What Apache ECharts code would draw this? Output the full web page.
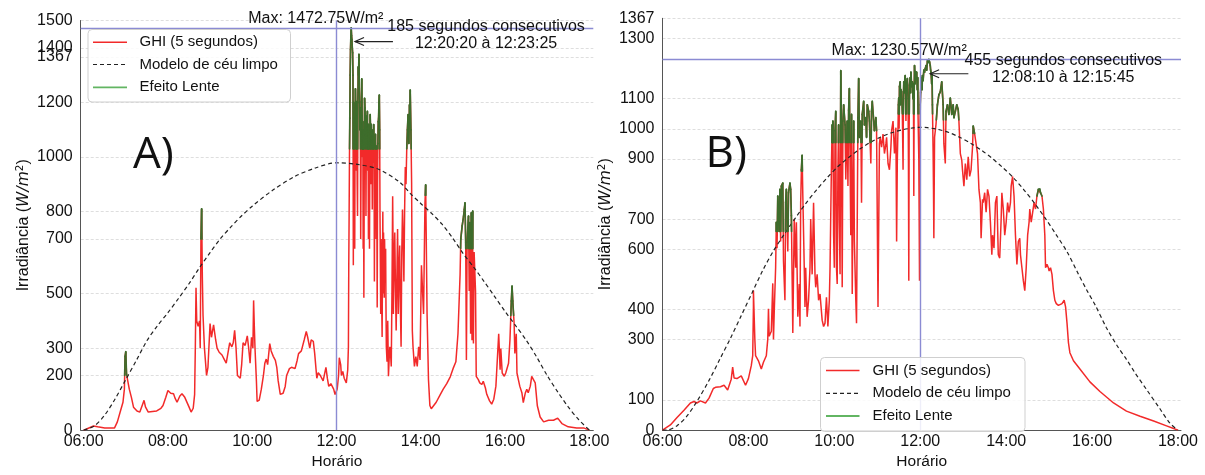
<!DOCTYPE html>
<html><head><meta charset="utf-8">
<script src="https://cdn.jsdelivr.net/npm/echarts@6/dist/echarts.min.js"></script>
<style>html,body{margin:0;padding:0;background:#fff}#c{width:1205px;height:475px}</style>
</head><body><div id="c"></div>
<script>
// ---------------- DATA ----------------
const xTicks = [6, 8, 10, 12, 14, 16, 18];
const yTicksA = [0, 200, 300, 500, 700, 800, 1000, 1200, 1367, 1400, 1500];
const yTicksB = [0, 100, 300, 400, 600, 700, 900, 1000, 1100, 1300, 1367];

const seriesNames = ['GHI (5 segundos)', 'Modelo de céu limpo', 'Efeito Lente'];

// Panel A : GHI (5 s) [time, W/m²]
const ghiA = [
["06:00",0],["06:05",5],["06:14",15],["06:20",12],["06:30",8],["06:44",8],["06:48",30],["06:52",66],["06:56",102],["06:58",150],["06:59",270],["07:00",287],["07:01",205],["07:02",191],["07:05",150],["07:08",120],["07:11",84],["07:16",70],["07:20",66],["07:24",95],["07:26",109],["07:28",85],["07:32",66],["07:38",68],["07:44",70],["07:50",80],["07:53",90],["07:57",120],["08:00",145],["08:04",135],["08:08",133],["08:10",118],["08:13",102],["08:17",125],["08:20",133],["08:24",120],["08:26",115],["08:30",85],["08:33",66],["08:36",80],["08:38",130],["08:39",300],["08:40",521],["08:41",400],["08:43",380],["08:45",400],["08:46",300],["08:47",700],["08:48",810],["08:49",560],["08:50",420],["08:52",300],["08:55",200],["08:57",230],["09:00",390],["09:02",340],["09:05",385],["09:08",330],["09:10",300],["09:13",285],["09:17",275],["09:20",260],["09:23",245],["09:26",290],["09:28",320],["09:31",305],["09:33",320],["09:35",365],["09:37",300],["09:39",200],["09:43",190],["09:45",240],["09:47",320],["09:50",310],["09:53",345],["09:55",300],["09:57",245],["09:59",340],["10:01",300],["10:02",475],["10:03",380],["10:04",300],["10:06",180],["10:07",105],["10:10",110],["10:13",150],["10:16",200],["10:18",245],["10:20",260],["10:22",240],["10:25",317],["10:27",290],["10:30",270],["10:33",255],["10:35",230],["10:37",180],["10:40",131],["10:44",135],["10:47",160],["10:49",200],["10:53",225],["10:56",230],["11:01",225],["11:04",255],["11:06",280],["11:10",290],["11:14",330],["11:17",361],["11:19",340],["11:22",300],["11:24",330],["11:27",325],["11:29",280],["11:32",190],["11:34",210],["11:37",200],["11:39",195],["11:41",180],["11:43",205],["11:45",230],["11:47",190],["11:49",160],["11:52",170],["11:56",150],["11:58",130],["12:01",150],["12:03",200],["12:04",265],["12:06",240],["12:07",200],["12:09",215],["12:11",190],["12:14",173],
["12:16",220],["12:17",305],["12:17:30",600],["12:18",784],["12:18:30",1000],["12:19",1143],["12:19:30",1300],["12:20",1394],["12:20:30",1440],["12:21",1472.75],["12:21:30",1445],["12:22",1430],["12:22:30",1400],["12:23",1382],["12:23:30",1300],["12:24",604],["12:24:30",1200],["12:25",1143],["12:25:30",880],["12:26",664],["12:26:30",1100],["12:27",1250],["12:27:30",1180],["12:28",1203],["12:28:30",950],["12:29",1150],["12:29:30",900],["12:30",784],["12:30:30",1200],["12:31",1330],["12:31:30",1300],["12:32",1376],["12:32:30",1250],["12:33",1203],["12:33:30",1100],["12:34",1180],["12:34:30",700],["12:35",963],["12:35:30",1200],["12:36",1286],["12:36:30",1150],["12:37",1000],["12:37:30",1130],["12:38",664],["12:38:30",1100],["12:39",485],["12:39:30",900],["12:40",1215],["12:40:30",1180],["12:41",1143],["12:41:30",1080],["12:42",784],["12:42:30",1050],["12:43",1150],["12:43:30",1100],["12:44",1167],["12:44:30",950],["12:45",1120],["12:45:30",700],["12:46",1119],["12:46:30",1050],["12:47",664],["12:47:30",1000],["12:48",1155],["12:48:30",1100],["12:49",900],["12:49:30",1120],["12:50",1047],["12:50:30",1090],["12:51",808],["12:51:30",1060],["12:52",1100],["12:52:30",980],["12:53",1119],["12:53:30",1040],["12:54",544],["12:54:30",900],["12:55",1050],["12:55:30",1083],["12:56",1000],["12:56:30",700],["12:57",1040],["12:57:30",800],["12:58",449],["12:58:30",900],["12:59",1050],["12:59:30",1130],["13:00",1143],["13:00:30",1200],["13:01",1227],["13:01:30",1100],["13:02",784],["13:02:30",600],["13:03",425],["13:03:30",700],["13:04",550],["13:05",341],["13:05:30",600],["13:06",800],["13:06:30",500],["13:07",724],["13:07:30",620],["13:08",485],["13:08:30",700],["13:09",600],["13:10",664],["13:10:30",450],["13:11",305],["13:12",250],["13:13",400],["13:14",197],["13:15",260],["13:16",305],["13:17",280],["13:18",233],["13:19",500],["13:20",856],["13:20:30",700],["13:21",425],["13:22",600],["13:23",724],["13:24",520],["13:25",365],["13:26",550],["13:27",736],["13:27:30",600],["13:28",425],["13:29",580],["13:30",676],["13:31",450],["13:32",305],["13:33",650],["13:34",808],["13:35",700],["13:36",544],["13:37",800],["13:38",963],["13:39",900],["13:40",1023],["13:41",1100],["13:42",1155],["13:43",1050],["13:44",1191],["13:44:30",1150],["13:45",1245],["13:46",1100],["13:47",903],["13:48",365],["13:49",305],["13:51",233],["13:53",269],["13:55",233],["13:57",305],["13:59",257],["14:01",604],["14:04",425],["14:06",832],["14:07",898],["14:09",425],["14:11",185],["14:13",90],["14:15",78],["14:22",102],["14:27",126],["14:32",150],["14:37",170],["14:42",195],["14:46",225],["14:50",250],["14:53",353],["14:56",569],["14:57",700],["14:59",748],["15:01",784],["15:02",808],["15:03",832],["15:04",688],["15:05",257],["15:06",688],["15:08",784],["15:09",509],["15:10",760],["15:11",353],["15:12",796],["15:13",329],["15:14",802],["15:14",652],["15:15",317],["15:16",652],["15:18",509],["15:19",197],["15:22",185],["15:24",173],["15:27",167],["15:29",179],["15:32",155],["15:34",131],["15:38",107],["15:41",95],["15:44",113],["15:47",161],["15:49",257],["15:51",353],["15:53",221],["15:54",299],["15:56",209],["15:59",197],["16:01",209],["16:05",245],["16:07",329],["16:09",473],["16:10",527],["16:11",473],["16:13",389],["16:14",281],["16:16",353],["16:17",209],["16:19",185],["16:21",161],["16:24",137],["16:26",101],["16:29",137],["16:31",149],["16:33",137],["16:36",161],["16:38",197],["16:40",203],["16:43",173],["16:46",89],["16:50",48],["16:55",30],["17:02",36],["17:09",36],["17:15",44],["17:21",24],["17:30",12],["17:42",8],["17:52",8],["18:00",0]
];

// Panel A : clear-sky model
const csA = [
["06:00",0],["06:15",15],["06:30",55],["06:45",115],["07:00",185],["07:15",255],["07:30",327],["07:45",382],["08:00",430],["08:15",482],["08:30",536],["08:45",595],["09:00",650],["09:15",702],["09:30",745],["09:45",785],["10:00",820],["10:30",880],["11:00",928],["11:30",960],["12:00",979],["12:30",973],["13:00",955],["13:30",908],["13:45",867],["14:00",830],["14:15",795],["14:30",755],["14:45",705],["15:00",648],["15:15",598],["15:30",545],["15:45",490],["16:00",435],["16:15",383],["16:30",330],["16:45",268],["17:00",200],["17:15",140],["17:30",85],["17:45",38],["18:00",0]
];

// Panel A : lens-effect episodes [start, end, level above which GHI is drawn green]
const lensA = [
["06:57","07:03",200],["08:46","08:50",700],["12:15","13:02",1030],["13:38","13:48",1030],["14:05","14:09",860],["14:55","15:19",665],["16:07","16:13",420]
];

// Panel B : GHI (5 s)
const ghiB = [
["06:00",0],["06:02",6],["06:11",17],["06:20",41],["06:30",66],["06:39",90],["06:44",95],["06:48",90],["06:53",97],["07:00",90],["07:05",106],["07:11",138],["07:14",142],["07:21",144],["07:26",149],["07:31",133],["07:36",169],["07:38",209],["07:40",173],["07:44",171],["07:50",180],["07:56",149],["08:00",171],["08:04",214],["08:06",247],["08:07",409],["08:07",463],["08:09",300],["08:10",247],["08:14",230],["08:18",203],["08:21",225],["08:25",247],["08:27",301],["08:28",403],["08:29",312],["08:32",328],["08:34",487],["08:35",301],["08:36",387],["08:37",463],["08:38",539],["08:39",690],["08:40",604],["08:41",777],["08:43",658],["08:44",799],["08:45",626],["08:46",810],["08:48",820],["08:49",561],["08:51",431],["08:52",755],["08:53",799],["08:55",593],["08:56",788],["08:58",820],["08:59",799],["09:00",712],["09:01",517],["09:02",322],["09:04",701],["09:06",539],["09:07",690],["09:09",376],["09:11",485],["09:12",344],["09:13",755],["09:14",864],["09:15",912],["09:16",777],["09:18",539],["09:19",409],["09:20",539],["09:22",376],["09:24",431],["09:26",539],["09:27",701],["09:29",517],["09:31",755],["09:33",517],["09:34",474],["09:36",517],["09:38",431],["09:40",452],["09:43",365],["09:45",344],["09:47",355],["09:49",441],["09:51",344],["09:53",431],["09:54",539],["09:56",885],["09:57",1013],["09:58",864],["09:58",1026],["09:59",647],["10:00",539],["10:01",994],["10:02",1058],["10:03",539],["10:04",485],["10:05",864],["10:06",1013],["10:07",690],["10:08",517],["10:09",1193],["10:10",972],["10:11",474],["10:12",1026],["10:13",1080],["10:15",1013],["10:16",832],["10:18",1026],["10:19",810],["10:20",1062],["10:21",1134],["10:23",647],["10:24",1048],["10:25",452],["10:27",1026],["10:28",626],["10:30",431],["10:31",355],["10:33",1037],["10:34",1167],["10:35",972],["10:37",1026],["10:38",755],["10:39",1048],["10:41",1091],["10:42",1013],["10:44",1037],["10:45",972],["10:46",1080],["10:48",1058],["10:49",1026],["10:51",885],["10:52",1058],["10:53",1091],["10:55",1026],["10:56",994],["10:58",1037],["10:59",994],["11:01",409],["11:03",950],["11:04",972],["11:06",939],["11:08",983],["11:10",918],["11:12",950],["11:13",972],["11:15",885],["11:17",864],["11:19",939],["11:20",994],["11:22",1026],["11:24",918],["11:26",1004],["11:27",626],["11:28",900],["11:29",1013],["11:29:30",1080],["11:30",1102],["11:30:30",1000],["11:31",1140],["11:32",1156],["11:32:30",1080],["11:33",1130],["11:34",1123],["11:35",1050],["11:36",864],["11:36:30",1100],["11:37",1156],["11:38",1120],["11:38:30",1170],["11:39",1177],["11:39:30",1100],["11:40",1026],["11:40:30",1130],["11:41",1150],["11:42",1167],["11:43",1100],["11:43:30",900],["11:44",496],["11:44:30",1000],["11:45",1145],["11:46",1170],["11:46:30",1120],["11:47",1188],["11:48",1140],["11:49",1156],["11:50",1100],["11:50:30",1150],["11:51",777],["11:51:30",1120],["11:52",1210],["11:53",1150],["11:53:30",1190],["11:54",1167],["11:55",1188],["11:56",1130],["11:56:30",1170],["11:57",1037],["11:58",900],["11:58:30",700],["11:59",496],["11:59:30",950],["12:00",1080],["12:00:30",1120],["12:01",1145],["12:02",1170],["12:02:30",1130],["12:03",1177],["12:04",1160],["12:05",1195],["12:06",1188],["12:07",1200],["12:08",1210],["12:09",1195],["12:10",1226],["12:11",1220],["12:12",1230.57],["12:13",1222],["12:14",1210],["12:14:30",1195],["12:15",1188],["12:16",1150],["12:16:30",1180],["12:17",1080],["12:18",918],["12:18:30",800],["12:19",637],["12:20",972],["12:22",1015],["12:24",1080],["12:26",1113],["12:28",1123],["12:30",1156],["12:32",1080],["12:33",950],["12:35",885],["12:36",1058],["12:38",1080],["12:40",1048],["12:42",1102],["12:44",1048],["12:46",1080],["12:47",1037],["12:49",1058],["12:51",1080],["12:53",1064],["12:54",1026],["12:56",918],["12:58",896],["12:59",864],["13:01",810],["13:03",885],["13:05",831],["13:07",907],["13:09",842],["13:11",864],["13:13",939],["13:14",1009],["13:16",983],["13:18",950],["13:20",918],["13:22",799],["13:24",755],["13:25",637],["13:27",766],["13:28",755],["13:30",788],["13:32",723],["13:34",799],["13:36",777],["13:38",690],["13:40",582],["13:41",647],["13:43",604],["13:45",755],["13:47",777],["13:49",582],["13:51",571],["13:53",701],["13:54",788],["13:56",734],["13:58",647],["14:00",690],["14:02",755],["14:04",723],["14:06",755],["14:07",810],["14:09",842],["14:11",777],["14:13",647],["14:15",550],["14:17",626],["14:19",637],["14:20",582],["14:22",539],["14:24",496],["14:26",463],["14:28",539],["14:30",647],["14:32",690],["14:33",734],["14:35",690],["14:37",723],["14:39",755],["14:41",734],["14:43",777],["14:45",799],["14:47",800],["14:48",788],["14:50",777],["14:52",734],["14:54",647],["14:55",539],["14:57",550],["14:59",539],["15:00",528],["15:02",539],["15:04",517],["15:06",463],["15:08",431],["15:10",420],["15:13",414],["15:15",409],["15:18",420],["15:21",431],["15:23",409],["15:25",355],["15:27",290],["15:29",257],["15:34",230],["15:43",203],["15:57",160],["16:11",128],["16:30",90],["16:48",63],["17:07",46],["17:26",30],["17:44",14],["17:53",6],["18:00",0]
];

// Panel B : clear-sky model
const csB = [
["06:00",0],["06:06",0],["06:20",14],["06:34",46],["06:48",95],["07:05",165],["07:20",235],["07:35",305],["07:50",380],["08:05",455],["08:20",530],["08:35",595],["08:50",650],["09:05",702],["09:20",752],["09:35",797],["09:50",838],["10:05",875],["10:20",905],["10:35",932],["10:50",955],["11:05",973],["11:20",987],["11:35",997],["11:50",1003],["12:00",1005],["12:10",1004],["12:25",998],["12:40",988],["12:55",972],["13:10",953],["13:25",930],["13:40",903],["13:55",872],["14:10",838],["14:25",797],["14:40",752],["14:55",702],["15:10",648],["15:25",592],["15:40",522],["15:53",463],["16:05",412],["16:20",340],["16:35",280],["16:48",235],["17:00",190],["17:16",135],["17:35",70],["17:49",22],["18:00",0]
];

// Panel B : lens-effect episodes
const lensB = [
["08:37","09:03",660],["09:13","09:17",860],["09:55","11:00",955],["11:26","12:19",1050],["12:19","12:56",1030],["13:12","13:18",985],["14:42","14:50",745]
];

// reference lines / annotation values
const maxA = 1472.75, maxB = 1230.57;
const noonLine = "12:00";
const textMaxA = 'Max: 1472.75W/m²';
const textMaxB = 'Max: 1230.57W/m²';
const noteA = ['185 segundos consecutivos', '12:20:20 à 12:23:25'];
const noteB = ['455 segundos consecutivos', '12:08:10 à 12:15:45'];
const panelLabels = ['A)', 'B)'];
const xName = 'Horário';

// ---------------- CHART ----------------
const FONT = 'Liberation Sans';
const INK = '#111';
const RED = '#f22a2a', GREEN = '#3e6d2c', GREEN_LEG = '#62b562', BLUE = '#8b8bd3', DASH = '#222';
const toH = s => { const p = s.split(':').map(Number); return p[0] + p[1] / 60 + (p[2] || 0) / 3600; };
const pts = arr => arr.map(d => [toH(d[0]), d[1]]);

const chart = echarts.init(document.getElementById('c'), null, {renderer: 'canvas'});

const grids = [
  {left: 80.7, right: 611.7, top: 20.5, bottom: 36.7},
  {left: 662.5, right: 24, top: 18.3, bottom: 35.7}
];

function xAxis(gi, min, max) {
  return {
    gridIndex: gi, type: 'value', min, max,
    axisLine: {show: true, onZero: false, lineStyle: {color: '#555', width: 1}},
    axisTick: {show: false, customValues: xTicks},
    axisLabel: {customValues: xTicks, fontFamily: FONT, fontSize: 16, color: INK, margin: 3,
      formatter: v => String(v).padStart(2, '0') + ':00'},
    splitLine: {show: false},
    name: xName, nameLocation: 'middle', nameGap: 19,
    nameTextStyle: {fontFamily: FONT, fontSize: 15.5, color: INK}
  };
}
function yAxis(gi, max, ticks) {
  return {
    gridIndex: gi, type: 'value', min: 0, max,
    axisLine: {show: true, lineStyle: {color: '#555', width: 1}},
    axisTick: {show: false, customValues: ticks},
    axisLabel: {customValues: ticks, fontFamily: FONT, fontSize: 16, color: INK, margin: 8,
      formatter: v => String(v)},
    splitLine: {show: true, lineStyle: {color: '#d6d6d6', width: 0.8, type: [3, 2]}},
    name: '{n|Irradiância (}{i|W/m}{s|2}{n|)}',
    nameLocation: 'middle', nameGap: 48, nameRotate: 90,
    nameTextStyle: {
      rich: {
        n: {fontFamily: FONT, fontSize: 16, color: INK},
        i: {fontFamily: 'DejaVu Sans', fontSize: 15.5, fontStyle: 'italic', color: INK},
        s: {fontFamily: 'DejaVu Sans', fontSize: 10.5, color: INK, verticalAlign: 'top', padding: [0, 0, 7, 0]}
      }
    }
  };
}

// segments of the GHI curve inside each lens episode (pairs of consecutive measured points)
function lensSegments(ghi, lens) {
  const P = pts(ghi), segs = [];
  lens.forEach(w => {
    const s = toH(w[0]), e = toH(w[1]);
    for (let i = 0; i < P.length - 1; i++) {
      if (P[i][0] >= s && P[i + 1][0] <= e) segs.push([P[i][0], P[i][1], P[i + 1][0], P[i + 1][1], w[2]]);
    }
  });
  return segs;
}
// draw only the part of each segment above the episode level
function renderLens(params, api) {
  const x1 = api.value(0), y1 = api.value(1), x2 = api.value(2), y2 = api.value(3), thr = api.value(4);
  if (y1 <= thr && y2 <= thr) return null;
  let a = [x1, y1], b = [x2, y2];
  if (y1 < thr) a = [x1 + (x2 - x1) * (thr - y1) / (y2 - y1), thr];
  if (y2 < thr) b = [x1 + (x2 - x1) * (thr - y1) / (y2 - y1), thr];
  const pa = api.coord(a), pb = api.coord(b);
  return {type: 'line', shape: {x1: pa[0], y1: pa[1], x2: pb[0], y2: pb[1]},
    style: {stroke: GREEN, lineWidth: 1.7, lineCap: 'round'}};
}

const series = [];
function addPanel(gi, ghi, cs, lens, maxVal) {
  series.push({
    name: seriesNames[0], type: 'line', xAxisIndex: gi, yAxisIndex: gi,
    data: pts(ghi), symbol: 'none', lineStyle: {color: RED, width: 1.5}, itemStyle: {color: RED},
    z: 2, silent: true
  });
  series.push({
    name: seriesNames[1], type: 'line', xAxisIndex: gi, yAxisIndex: gi,
    data: pts(cs), symbol: 'none', smooth: 0.3,
    lineStyle: {color: DASH, width: 1.2, type: [4, 3]}, itemStyle: {color: DASH},
    z: 3, silent: true,
    markLine: {
      silent: true, symbol: 'none', animation: false,
      lineStyle: {color: BLUE, width: 1.4, type: 'solid'},
      label: {show: false},
      data: [{yAxis: maxVal}, {xAxis: toH(noonLine)}]
    }
  });
  series.push({
    name: seriesNames[2], type: 'custom', xAxisIndex: gi, yAxisIndex: gi,
    data: lensSegments(ghi, lens), encode: {x: [0, 2], y: [1, 3]},
    renderItem: renderLens, z: 4, silent: true, clip: true
  });
}
addPanel(0, ghiA, csA, lensA, maxA);
addPanel(1, ghiB, csB, lensB, maxB);

chart.setOption({
  animation: false,
  backgroundColor: '#fff',
  grid: grids,
  xAxis: [xAxis(0, 5.93, 18.095), xAxis(1, 6, 18.07)],
  yAxis: [yAxis(0, 1500, yTicksA), yAxis(1, 1367, yTicksB)],
  series
});

// ---- annotations placed through the axes' scales ----
const P = (gi, x, y) => chart.convertToPixel({gridIndex: gi}, [x, y]);
const graphics = [];
function txt(x, y, text, font, align, vAlign, fill) {
  graphics.push({type: 'text', x, y, silent: true, z: 50,
    style: {text, font, fill: fill || INK, align, verticalAlign: vAlign, textAlign: align, textVerticalAlign: vAlign}});
}
function arrow(a, b) {
  const dx = b[0] - a[0], dy = b[1] - a[1], L = Math.hypot(dx, dy), ux = dx / L, uy = dy / L;
  const h = 9, w = 4;
  graphics.push({type: 'line', silent: true, z: 50, shape: {x1: a[0], y1: a[1], x2: b[0], y2: b[1]}, style: {stroke: '#222', lineWidth: 1.2}});
  graphics.push({type: 'polyline', silent: true, z: 50, shape: {points: [
    [b[0] - ux * h - uy * w, b[1] - uy * h + ux * w], [b[0], b[1]], [b[0] - ux * h + uy * w, b[1] - uy * h - ux * w]
  ]}, style: {stroke: '#222', lineWidth: 1.2, fill: 'none'}});
}
const F16 = '16px "' + FONT + '"';
function annotate(gi, maxVal, maxText, note, maxTextH, noteH, noteV, arrowFrom, arrowTo, panelH, panelV, label) {
  const pm = P(gi, maxTextH, maxVal);
  txt(pm[0], pm[1] - 1, maxText, F16, 'center', 'bottom');
  const pn = P(gi, noteH, noteV);
  txt(pn[0], pn[1] - 8.5, note[0], F16, 'center', 'middle');
  txt(pn[0], pn[1] + 8.5, note[1], F16, 'center', 'middle');
  arrow(P(gi, arrowFrom[0], arrowFrom[1]), P(gi, arrowTo[0], arrowTo[1]));
  const pl = P(gi, panelH, panelV);
  txt(pl[0], pl[1], label, '44px "Open Sans"', 'left', 'middle', '#111');
}
annotate(0, maxA, textMaxA, noteA, 11.51, 15.55, 1448, [13.34, 1423], [12.44, 1423], 7.17, 1005, panelLabels[0]);
annotate(1, maxB, textMaxB, noteB, 11.51, 15.33, 1199, [13.12, 1183], [12.23, 1183], 7.0, 915, panelLabels[1]);

// ---- legends (one per panel) ----
const legendStyles = [
  {stroke: RED, lineWidth: 1.4},
  {stroke: DASH, lineWidth: 1.2, lineDash: [4, 3]},
  {stroke: GREEN_LEG, lineWidth: 1.8}
];
function legendBox(x, y, w, h, rowY, lineX0, lineX1, textX) {
  graphics.push({type: 'rect', silent: true, z: 40, shape: {x: x + 0.5, y: y + 0.5, width: w, height: h, r: 4},
    style: {fill: 'rgba(255,255,255,0.85)', stroke: '#cfcfcf', lineWidth: 1}});
  seriesNames.forEach((n, i) => {
    const yy = rowY[i];
    graphics.push({type: 'line', silent: true, z: 41, shape: {x1: lineX0, y1: yy, x2: lineX1, y2: yy}, style: legendStyles[i]});
    txt(textX, yy, n, '15px "' + FONT + '"', 'left', 'middle');
  });
}
legendBox(87.5, 29, 202.5, 72.5, [42.3, 64.5, 87.3], 93, 127, 139.5);
legendBox(820, 357, 204.5, 74, [370.5, 393.3, 416], 826, 859.5, 872.5);

chart.setOption({graphic: graphics});
</script>
</body></html>
